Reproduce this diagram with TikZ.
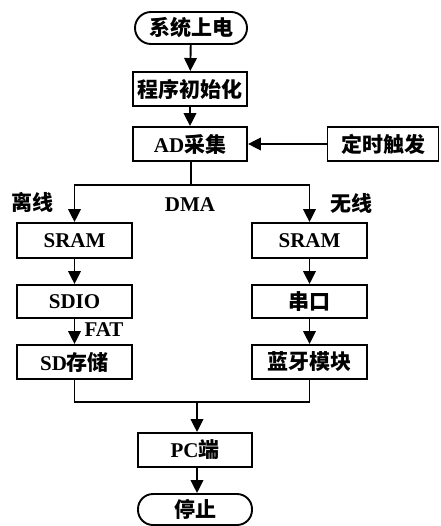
\documentclass[tikz,border=0pt]{standalone}
\usepackage{fontspec}
\setmainfont{Liberation Serif}
\newfontfamily\cjk{Noto Sans CJK SC}
\usetikzlibrary{arrows.meta}
\newcommand{\zh}[1]{{\cjk\bfseries #1}}
\tikzset{
  box/.style={draw, line width=1.9pt, rectangle, minimum width=114pt, minimum height=34pt, inner sep=0pt, font=\fontsize{21}{23}\selectfont\bfseries},
  term/.style={box, rounded corners=16pt},
  lbl/.style={inner sep=0pt, font=\fontsize{21}{23}\selectfont\bfseries},
  conn/.style={line width=1.9pt},
  arr/.style={conn, -{Triangle[length=13pt,width=12.5pt]}}
}
\begin{document}
\begin{tikzpicture}[x=1pt,y=-1pt]
\useasboundingbox (0,0) rectangle (440,526);
\node[term, minimum width=112pt, minimum height=32pt] (start) at (191,28) {\zh{系统上电}};
\node[box] (init) at (190,89) {\zh{程序初始化}};
\node[box] (ad) at (190,144) {AD\zh{采集}};
\node[box, minimum width=111pt] (timer) at (383,144) {\zh{定时触发}};
\node[box, minimum width=115pt, minimum height=35pt] (sramL) at (74.5,240.5) {SRAM};
\node[box, minimum width=115pt, minimum height=33pt] (sdio) at (74.5,301.5) {SDIO};
\node[box, minimum width=115pt] (sd) at (74.5,362) {SD\zh{存储}};
\node[box, minimum width=115pt, minimum height=35pt] (sramR) at (309.5,240.5) {SRAM};
\node[box, minimum width=115pt, minimum height=33pt] (uart) at (309.5,301.5) {\zh{串口}};
\node[box, minimum width=115pt] (bt) at (309.5,362) {\zh{蓝牙模块}};
\node[box] (pc) at (195,450) {PC\zh{端}};
\node[term, minimum height=31pt, rounded corners=15pt] (stop) at (195,509.5) {\zh{停止}};
\node[lbl] (offline) at (32,202) {\zh{离线}};
\node[lbl] (dma) at (190,205) {DMA};
\node[lbl] (wireless) at (351,203) {\zh{无线}};
\node[lbl] (fat) at (104,330) {FAT};
\coordinate (split) at (191,185);
\coordinate (merge) at (197,402);
\draw[arr] (start) -- (init);
\draw[arr] (init) -- (ad);
\draw[arr] (timer) -- (ad);
\draw[conn] (ad.south -| split) -- (split);
\draw[arr] (split) -| (sramL);
\draw[arr] (split) -| (sramR);
\draw[arr] (sramL) -- (sdio);
\draw[arr] (sdio) -- (sd);
\draw[arr] (sramR) -- (uart);
\draw[arr] (uart) -- (bt);
\draw[conn] (sd) |- (merge);
\draw[conn] (bt) |- (merge);
\draw[arr] (merge) -- (merge |- pc.north);
\draw[arr] (pc.south -| merge) -- (stop.north -| merge);
\end{tikzpicture}
\end{document}
